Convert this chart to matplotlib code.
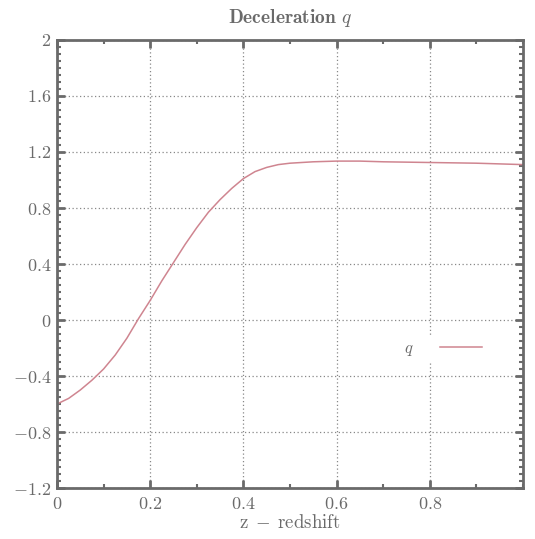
import matplotlib
matplotlib.use("Agg")
import matplotlib.pyplot as plt
from matplotlib.ticker import FixedLocator, FixedFormatter, MultipleLocator

# data
z = [0.0, 0.025, 0.05, 0.075, 0.1, 0.125, 0.15, 0.175, 0.2, 0.225, 0.25, 0.275,
     0.3, 0.325, 0.35, 0.375, 0.4, 0.425, 0.45, 0.475, 0.5, 0.55, 0.6, 0.65,
     0.7, 0.8, 0.9, 1.0]
q = [-0.60, -0.56, -0.50, -0.43, -0.35, -0.25, -0.13, 0.01, 0.14, 0.28, 0.41, 0.54,
     0.66, 0.77, 0.86, 0.94, 1.01, 1.06, 1.09, 1.11, 1.12, 1.13, 1.135, 1.135,
     1.13, 1.125, 1.12, 1.11]

xticks = [0, 0.2, 0.4, 0.6, 0.8]
xticklabels = [r'$0$', r'$0.2$', r'$0.4$', r'$0.6$', r'$0.8$']
yticks = [-1.2, -0.8, -0.4, 0, 0.4, 0.8, 1.2, 1.6, 2.0]
yticklabels = [r'$-1.2$', r'$-0.8$', r'$-0.4$', r'$0$', r'$0.4$', r'$0.8$',
               r'$1.2$', r'$1.6$', r'$2$']

plt.rcParams['mathtext.fontset'] = 'cm'
plt.rcParams['font.family'] = 'serif'
plt.rcParams['font.serif'] = ['cmr10', 'DejaVu Serif']

TXT = '#6a6a6a'
SP = '#6a6a6a'

fig = plt.figure(figsize=(5.35, 5.39), dpi=100)
ax = fig.add_axes([0.1065, 0.0946, 0.8711, 0.8312])

ax.plot(z, q, color='#cf8590', lw=1.1, label=r'$q$')

ax.set_xlim(0, 1)
ax.set_ylim(-1.2, 2)
ax.xaxis.set_major_locator(FixedLocator(xticks))
ax.xaxis.set_major_formatter(FixedFormatter(xticklabels))
ax.yaxis.set_major_locator(FixedLocator(yticks))
ax.yaxis.set_major_formatter(FixedFormatter(yticklabels))
ax.xaxis.set_minor_locator(MultipleLocator(0.1))
ax.yaxis.set_minor_locator(MultipleLocator(0.05))

ax.tick_params(which='both', direction='in', top=True, right=True,
               color=SP, labelcolor=TXT, labelsize=13)
ax.tick_params(which='major', length=6, width=2)
ax.tick_params(which='minor', length=3, width=1.5)
ax.tick_params(axis='x', pad=6)
ax.tick_params(axis='y', pad=4)

for s in ax.spines.values():
    s.set_color(SP)
    s.set_linewidth(2)

ax.grid(True, which='major', linestyle=(0, (1, 2)), color='#888888', lw=0.9)

ax.set_title(r'$\mathbf{Deceleration}\ \mathit{q}$', color=TXT, fontsize=14, pad=12)
ax.set_xlabel(r'$\mathrm{z}\;-\;\mathrm{redshift}$', color=TXT, fontsize=13.5, labelpad=1)

leg = ax.legend(loc='center right', bbox_to_anchor=(0.923, 0.31),
                frameon=True, framealpha=1, edgecolor='none', facecolor='white',
                markerfirst=False, handlelength=2.5, handletextpad=1.6,
                borderpad=0.3, borderaxespad=0, fontsize=12, labelcolor=TXT)

fig.savefig('out.png', dpi=100)
